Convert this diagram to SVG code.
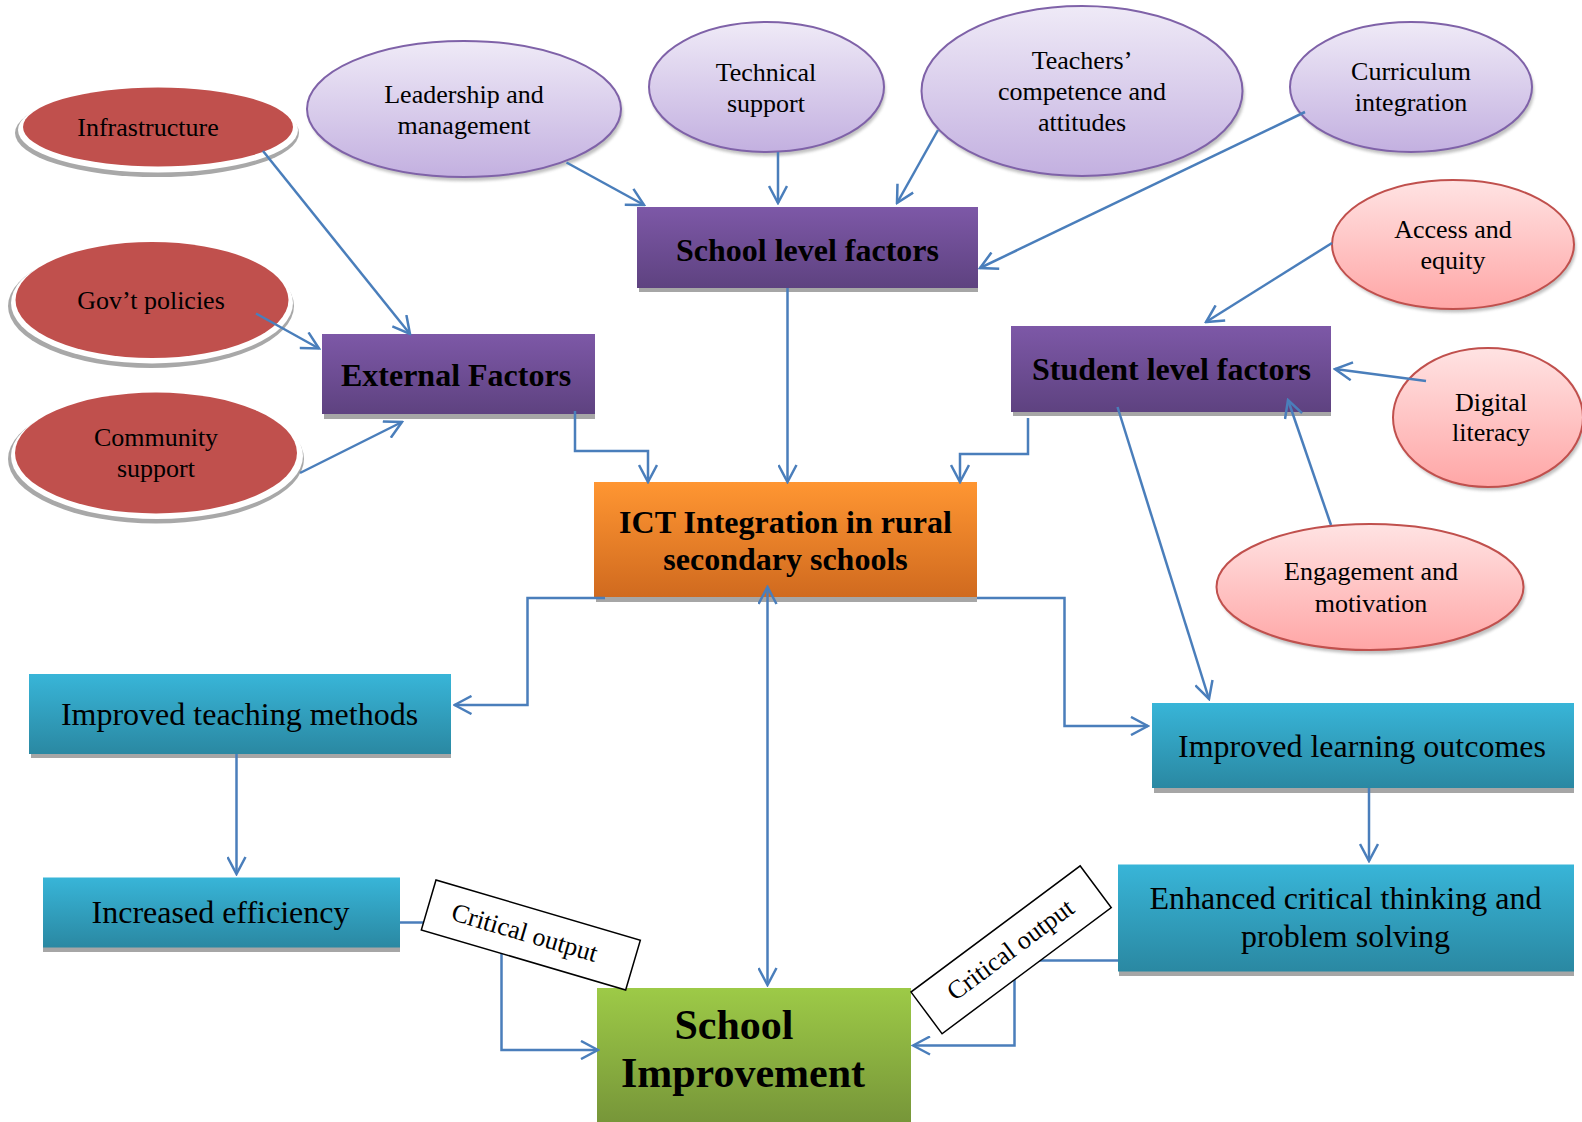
<svg xmlns="http://www.w3.org/2000/svg" width="1582" height="1122" viewBox="0 0 1582 1122">
<defs>
  <linearGradient id="gPurpleEll" x1="0" y1="0" x2="0" y2="1">
    <stop offset="0" stop-color="#EFEAF7"/><stop offset="1" stop-color="#C3B0E0"/>
  </linearGradient>
  <linearGradient id="gPinkEll" x1="0" y1="0" x2="0" y2="1">
    <stop offset="0" stop-color="#FFE3E3"/><stop offset="1" stop-color="#FFA6A6"/>
  </linearGradient>
  <linearGradient id="gPurpleRect" x1="0" y1="0" x2="0" y2="1">
    <stop offset="0" stop-color="#7D58A7"/><stop offset="1" stop-color="#5E4280"/>
  </linearGradient>
  <linearGradient id="gOrange" x1="0" y1="0" x2="0" y2="1">
    <stop offset="0" stop-color="#FF9632"/><stop offset="1" stop-color="#D06A1F"/>
  </linearGradient>
  <linearGradient id="gCyan" x1="0" y1="0" x2="0" y2="1">
    <stop offset="0" stop-color="#38B5D8"/><stop offset="1" stop-color="#2A88A2"/>
  </linearGradient>
  <linearGradient id="gGreen" x1="0" y1="0" x2="0" y2="1">
    <stop offset="0" stop-color="#9DCA47"/><stop offset="1" stop-color="#779639"/>
  </linearGradient>
  <filter id="blur" x="-10%" y="-10%" width="120%" height="130%">
    <feGaussianBlur stdDeviation="1.5"/>
  </filter>
  <marker id="arr" viewBox="0 0 20 20" refX="18" refY="10" markerWidth="20" markerHeight="20" markerUnits="userSpaceOnUse" orient="auto-start-reverse">
    <path d="M1,1 L18,10 L1,19" fill="none" stroke="#4A7EBB" stroke-width="2.5"/>
  </marker>
  <style>
    .t { font-family: "Liberation Serif", "Times New Roman", serif; fill: #000; text-anchor: middle; }
    .e { font-size: 26px; }
    .b { font-size: 32px; font-weight: bold; }
    .r { font-size: 32px; }
    .c { font-size: 26px; }
    .red { fill: #C0504D; }
    .rsh1 { fill: #A8A8A8; }
    .rsh2 { fill: #FFFFFF; }
    .pe { fill: url(#gPurpleEll); stroke: #7F62A8; stroke-width: 2; }
    .ke { fill: url(#gPinkEll); stroke: #C0504D; stroke-width: 2; }
    .esh { fill: #8C8C8C; opacity: 0.55; filter: url(#blur); }
    .psh { fill: #A6A6A6; }
    .conn { fill: none; stroke: #4A7EBB; stroke-width: 2.5; }
    .lbl { fill: #FFFFFF; stroke: #000; stroke-width: 1.5; }
  </style>
</defs>

<!-- Red ellipses -->
<g id="infrastructure">
  <ellipse class="rsh1" cx="157" cy="133" rx="142" ry="44"/>
  <ellipse class="rsh2" cx="158" cy="130" rx="140" ry="42.5"/>
  <ellipse class="red" cx="158" cy="127" rx="135" ry="39.5"/>
  <text class="t e" x="148" y="136">Infrastructure</text>
</g>
<g id="govt-policies">
  <ellipse class="rsh1" cx="151" cy="306" rx="143" ry="62"/>
  <ellipse class="rsh2" cx="152" cy="303" rx="141" ry="60.5"/>
  <ellipse class="red" cx="152" cy="300" rx="136.5" ry="58"/>
  <text class="t e" x="151" y="309">Gov’t policies</text>
</g>
<g id="community-support">
  <ellipse class="rsh1" cx="156" cy="459" rx="148" ry="64.5"/>
  <ellipse class="rsh2" cx="157" cy="456" rx="146" ry="63"/>
  <ellipse class="red" cx="156" cy="453" rx="141" ry="60.5"/>
  <text class="t e" x="156" y="446">Community</text>
  <text class="t e" x="156" y="477">support</text>
</g>

<!-- Purple ellipses -->
<g id="leadership">
  <ellipse class="esh" cx="466" cy="113" rx="157" ry="68"/>
  <ellipse class="pe" cx="464" cy="109" rx="157" ry="68"/>
  <text class="t e" x="464" y="103">Leadership and</text>
  <text class="t e" x="464" y="134">management</text>
</g>
<g id="technical-support">
  <ellipse class="esh" cx="768" cy="91" rx="117.5" ry="65"/>
  <ellipse class="pe" cx="766.5" cy="87" rx="117.5" ry="65"/>
  <text class="t e" x="766" y="81">Technical</text>
  <text class="t e" x="766" y="112">support</text>
</g>
<g id="teachers-competence">
  <ellipse class="esh" cx="1084" cy="95" rx="160.5" ry="85"/>
  <ellipse class="pe" cx="1082" cy="91" rx="160.5" ry="85"/>
  <text class="t e" x="1082" y="69">Teachers’</text>
  <text class="t e" x="1082" y="100">competence and</text>
  <text class="t e" x="1082" y="131">attitudes</text>
</g>
<g id="curriculum-integration">
  <ellipse class="esh" cx="1413" cy="91" rx="121" ry="65"/>
  <ellipse class="pe" cx="1411" cy="87" rx="121" ry="65"/>
  <text class="t e" x="1411" y="80">Curriculum</text>
  <text class="t e" x="1411" y="111">integration</text>
</g>

<!-- Pink ellipses -->
<g id="access-equity">
  <ellipse class="esh" cx="1455" cy="248" rx="121" ry="64.5"/>
  <ellipse class="ke" cx="1453" cy="244.5" rx="121" ry="64.5"/>
  <text class="t e" x="1453" y="238">Access and</text>
  <text class="t e" x="1453" y="269">equity</text>
</g>
<g id="digital-literacy">
  <ellipse class="esh" cx="1490" cy="421" rx="95" ry="69.5"/>
  <ellipse class="ke" cx="1488" cy="417.5" rx="95" ry="69.5"/>
  <text class="t e" x="1491" y="411">Digital</text>
  <text class="t e" x="1491" y="441">literacy</text>
</g>
<g id="engagement-motivation">
  <ellipse class="esh" cx="1372" cy="591" rx="153.5" ry="63"/>
  <ellipse class="ke" cx="1370" cy="587" rx="153.5" ry="63"/>
  <text class="t e" x="1371" y="580">Engagement and</text>
  <text class="t e" x="1371" y="612">motivation</text>
</g>

<!-- Purple rectangles -->
<g id="school-level-factors">
  <rect class="psh" x="639" y="212" width="339" height="80"/>
  <rect x="637" y="207" width="341" height="81" fill="url(#gPurpleRect)"/>
  <text class="t b" x="807.5" y="261">School level factors</text>
</g>
<g id="external-factors">
  <rect class="psh" x="324" y="339" width="271" height="80"/>
  <rect x="322" y="334" width="273" height="80" fill="url(#gPurpleRect)"/>
  <text class="t b" x="456" y="386">External Factors</text>
</g>
<g id="student-level-factors">
  <rect class="psh" x="1013" y="331" width="318" height="85"/>
  <rect x="1011" y="326" width="320" height="86" fill="url(#gPurpleRect)"/>
  <text class="t b" x="1171.5" y="380">Student level factors</text>
</g>

<!-- ICT -->
<g id="ict-integration">
  <rect class="psh" x="596" y="487" width="381" height="115"/>
  <rect x="594" y="482" width="383" height="115" fill="url(#gOrange)"/>
  <text class="t b" x="785.5" y="533">ICT Integration in rural</text>
  <text class="t b" x="785.5" y="570">secondary schools</text>
</g>

<!-- Cyan rectangles -->
<g id="improved-teaching">
  <rect class="psh" x="31" y="679" width="420" height="79"/>
  <rect x="29" y="674" width="422" height="80" fill="url(#gCyan)"/>
  <text class="t r" x="239.5" y="725">Improved teaching methods</text>
</g>
<g id="increased-efficiency">
  <rect class="psh" x="43" y="882" width="357" height="70"/>
  <rect x="43" y="877.5" width="357" height="70" fill="url(#gCyan)"/>
  <text class="t r" x="220.5" y="923">Increased efficiency</text>
</g>
<g id="improved-learning">
  <rect class="psh" x="1154" y="708" width="420" height="85"/>
  <rect x="1152" y="703" width="422" height="85" fill="url(#gCyan)"/>
  <text class="t r" x="1362" y="757">Improved learning outcomes</text>
</g>
<g id="enhanced-critical-thinking">
  <rect class="psh" x="1119" y="869" width="455" height="107"/>
  <rect x="1118" y="864.5" width="456" height="107" fill="url(#gCyan)"/>
  <text class="t r" x="1345.5" y="909">Enhanced critical thinking and</text>
  <text class="t r" x="1345.5" y="947">problem solving</text>
</g>

<!-- School Improvement -->
<g id="school-improvement">
  <rect x="597" y="988" width="314" height="134" fill="url(#gGreen)"/>
  <text class="t" x="734" y="1039" font-size="42" font-weight="bold">School</text>
  <text class="t" x="743" y="1087" font-size="42" font-weight="bold">Improvement</text>
</g>

<!-- Connectors -->
<g id="connectors">
  <path class="conn" d="M263,151 L410,334" marker-end="url(#arr)"/>
  <path class="conn" d="M256,313.5 L319,348.5" marker-end="url(#arr)"/>
  <path class="conn" d="M300,473 L402,422" marker-end="url(#arr)"/>
  <path class="conn" d="M566.5,162.5 L644,205" marker-end="url(#arr)"/>
  <path class="conn" d="M778,152 L778,203" marker-end="url(#arr)"/>
  <path class="conn" d="M938,130 L897,203" marker-end="url(#arr)"/>
  <path class="conn" d="M1305,112 L980,268" marker-end="url(#arr)"/>
  <path class="conn" d="M787.5,288 L787.5,482" marker-end="url(#arr)"/>
  <path class="conn" d="M575,411 L575,451 L648,451 L648,482" marker-end="url(#arr)"/>
  <path class="conn" d="M1028,418 L1028,454 L960,454 L960,482" marker-end="url(#arr)"/>
  <path class="conn" d="M1332,243 L1206,322" marker-end="url(#arr)"/>
  <path class="conn" d="M1426,381 L1335,369" marker-end="url(#arr)"/>
  <path class="conn" d="M1331,525 L1288,400" marker-end="url(#arr)"/>
  <path class="conn" d="M1117.5,407 L1209,699" marker-end="url(#arr)"/>
  <path class="conn" d="M605,598 L527.5,598 L527.5,705 L454.5,705" marker-end="url(#arr)"/>
  <path class="conn" d="M977,598 L1064.5,598 L1064.5,726 L1148,726" marker-end="url(#arr)"/>
  <path class="conn" d="M767.5,587 L767.5,985" marker-start="url(#arr)" marker-end="url(#arr)"/>
  <path class="conn" d="M236.5,754 L236.5,874" marker-end="url(#arr)"/>
  <path class="conn" d="M1369,788 L1369,861" marker-end="url(#arr)"/>
  <path class="conn" d="M400,922.5 L430,922.5"/>
  <path class="conn" d="M501.5,950 L501.5,1050 L598,1050" marker-end="url(#arr)"/>
  <path class="conn" d="M1118,960.5 L1030,960.5"/>
  <path class="conn" d="M1014.5,975 L1014.5,1045.5 L913,1045.5" marker-end="url(#arr)"/>
</g>

<!-- Critical output labels -->
<g id="label-critical-output-left" transform="translate(436,880) rotate(16.4)">
  <rect class="lbl" x="0" y="0" width="213" height="52"/>
  <text class="t c" x="100" y="34">Critical output</text>
</g>
<g id="label-critical-output-right" transform="translate(911,992) rotate(-36.7)">
  <rect class="lbl" x="0" y="0" width="211" height="52"/>
  <text class="t c" x="105" y="34">Critical output</text>
</g>
</svg>
